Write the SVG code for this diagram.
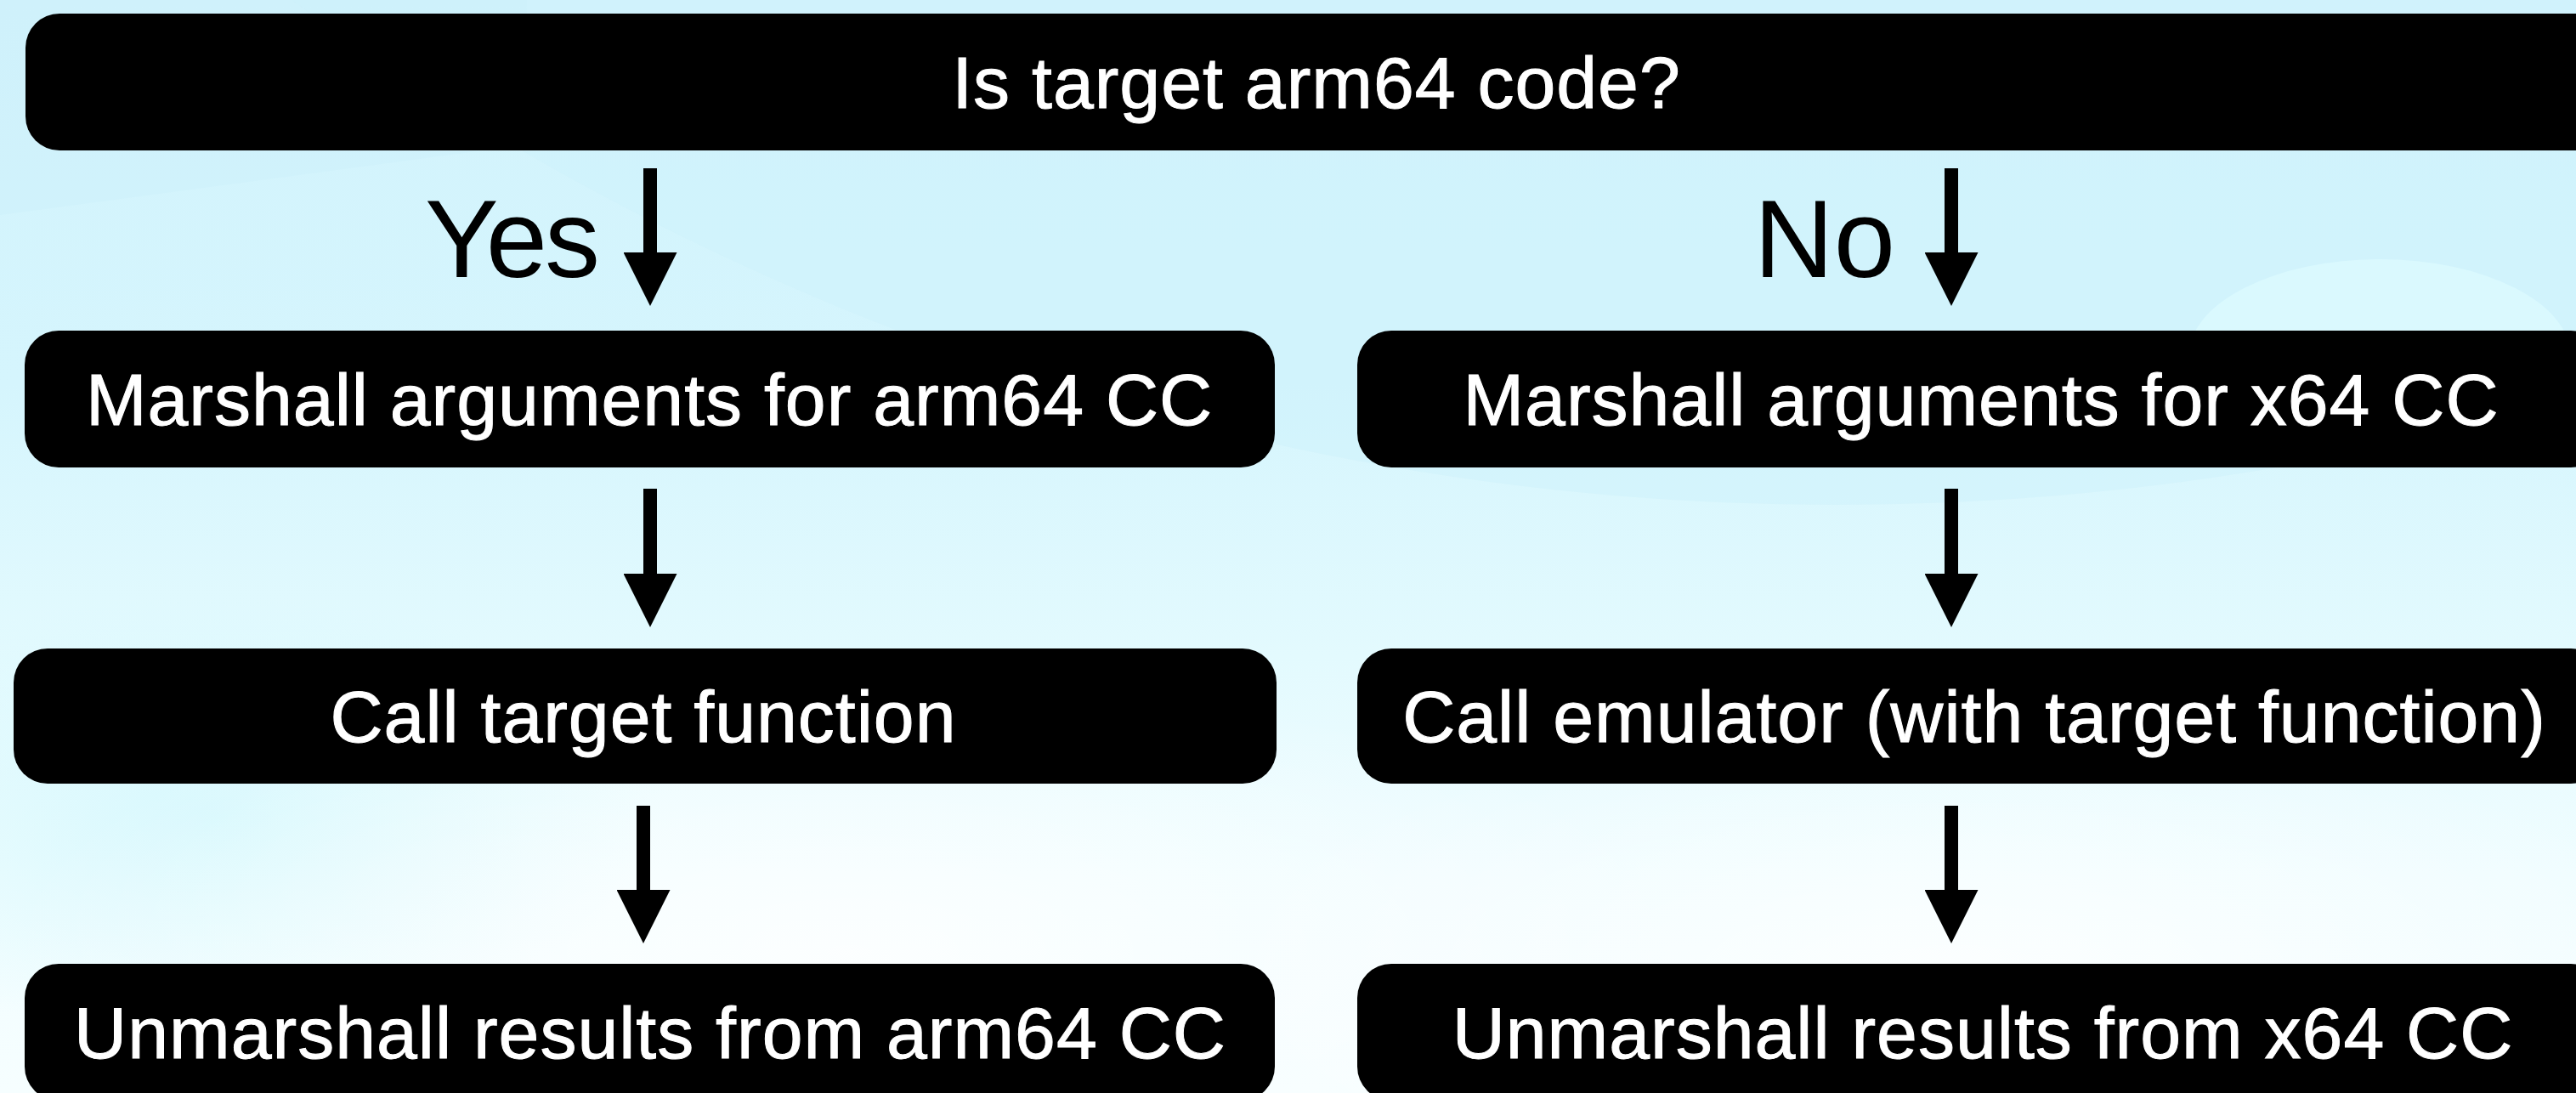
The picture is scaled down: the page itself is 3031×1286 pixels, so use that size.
<svg xmlns="http://www.w3.org/2000/svg" width="3031" height="1286" viewBox="0 0 3031 1286">
  <defs>
    <linearGradient id="bg" x1="0" y1="0" x2="0" y2="1286" gradientUnits="userSpaceOnUse">
      <stop offset="0" stop-color="#d2f3fc"/>
      <stop offset="0.35" stop-color="#d5f5fd"/>
      <stop offset="0.6" stop-color="#e3fafe"/>
      <stop offset="0.8" stop-color="#f0fdff"/>
      <stop offset="1" stop-color="#f6feff"/>
    </linearGradient>
    <radialGradient id="glow" cx="0.5" cy="0.5" r="0.5">
      <stop offset="0" stop-color="#ffffff" stop-opacity="0.75"/>
      <stop offset="1" stop-color="#ffffff" stop-opacity="0"/>
    </radialGradient>
    <radialGradient id="cyanGlow" cx="0.5" cy="0.5" r="0.5">
      <stop offset="0" stop-color="#d6f8fd" stop-opacity="0.9"/>
      <stop offset="1" stop-color="#d6f8fd" stop-opacity="0"/>
    </radialGradient>
    <marker id="head" viewBox="0 0 65 63" markerWidth="65" markerHeight="63" markerUnits="userSpaceOnUse" refX="2" refY="31.5" orient="auto">
      <path d="M2,0 L65,31.5 L2,63 Z" fill="#000"/>
    </marker>
  </defs>
  <style>
    .box { fill: #000; }
    .label { font-family: "Liberation Sans", Arial, Helvetica, sans-serif; font-size: 86px; fill: #fff; stroke: #fff; stroke-width: 1; text-anchor: middle; letter-spacing: 1px; }
    .branch { font-family: "Liberation Sans", Arial, Helvetica, sans-serif; font-size: 130px; fill: #000; text-anchor: end; }
    .conn { stroke: #000; stroke-width: 16; fill: none; marker-end: url(#head); }
  </style>

  <!-- soft wallpaper backdrop -->
  <g id="background">
    <rect x="0" y="0" width="3031" height="1286" fill="url(#bg)"/>
    <path d="M0,253 L620,170 L620,0 L0,0 Z" fill="#cdeffb" opacity="0.45"/>
    <circle cx="2160" cy="-2480" r="3074" fill="#cdf1fb" opacity="0.5"/>
    <ellipse cx="2800" cy="420" rx="225" ry="115" fill="#daf9fe"/>
    <ellipse cx="250" cy="960" rx="520" ry="260" fill="url(#cyanGlow)"/>
    <ellipse cx="1000" cy="1120" rx="1000" ry="330" fill="url(#glow)"/>
    <ellipse cx="2300" cy="1150" rx="900" ry="300" fill="url(#glow)"/>
  </g>

  <!-- flow arrows and branch labels -->
  <g id="connectors">
    <line class="conn" x1="765" y1="198" x2="765" y2="297"/>
    <line class="conn" x1="2296" y1="198" x2="2296" y2="297"/>
    <line class="conn" x1="765" y1="575" x2="765" y2="675"/>
    <line class="conn" x1="2296" y1="575" x2="2296" y2="675"/>
    <line class="conn" x1="757" y1="948" x2="757" y2="1047"/>
    <line class="conn" x1="2296" y1="948" x2="2296" y2="1047"/>
    <text class="branch" x="703" y="326" letter-spacing="-3">Yes</text>
    <text class="branch" x="2230" y="326">No</text>
  </g>

  <g id="node-decision">
    <rect class="box" x="30" y="16" width="3038" height="161" rx="40" ry="40"/>
    <text class="label" x="1549" y="127">Is target arm64 code?</text>
  </g>

  <g id="node-arm64-marshall">
    <rect class="box" x="29" y="389" width="1471" height="161" rx="40" ry="40"/>
    <text class="label" x="764" y="500">Marshall arguments for arm64 CC</text>
  </g>

  <g id="node-arm64-call">
    <rect class="box" x="16" y="763" width="1486" height="159" rx="40" ry="40"/>
    <text class="label" x="757" y="873">Call target function</text>
  </g>

  <g id="node-arm64-unmarshall">
    <rect class="box" x="29" y="1134" width="1471" height="161" rx="40" ry="40"/>
    <text class="label" x="765" y="1245">Unmarshall results from arm64 CC</text>
  </g>

  <g id="node-x64-marshall">
    <rect class="box" x="1597" y="389" width="1468" height="161" rx="40" ry="40"/>
    <text class="label" x="2331" y="500">Marshall arguments for x64 CC</text>
  </g>

  <g id="node-x64-call">
    <rect class="box" x="1597" y="763" width="1468" height="159" rx="40" ry="40"/>
    <text class="label" x="2323" y="873">Call emulator (with target function)</text>
  </g>

  <g id="node-x64-unmarshall">
    <rect class="box" x="1597" y="1134" width="1468" height="161" rx="40" ry="40"/>
    <text class="label" x="2333" y="1245">Unmarshall results from x64 CC</text>
  </g>
</svg>
